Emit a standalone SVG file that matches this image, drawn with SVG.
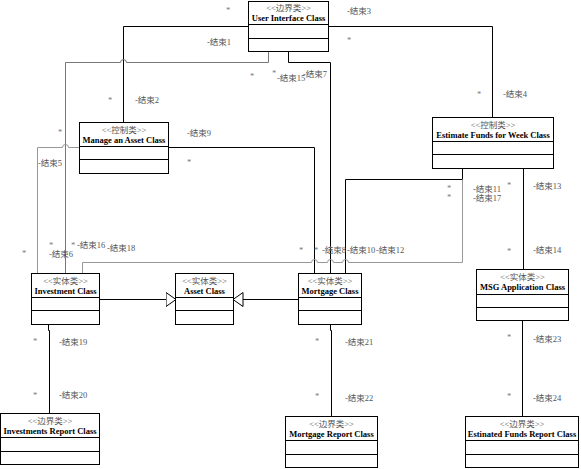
<svg xmlns="http://www.w3.org/2000/svg" width="581" height="469" viewBox="0 0 581 469">
<style>
.box{fill:#fff;stroke:#000;stroke-width:1}
.div{stroke:#000;stroke-width:1}
.st{font-family:"Liberation Serif","Noto Sans CJK SC",serif;font-size:8.5px;fill:#555;text-anchor:middle}
.nm{font-family:"Liberation Serif","Noto Sans CJK SC",serif;font-size:8.5px;font-weight:bold;fill:#000;text-anchor:middle}
.ln{fill:none;stroke:#000;stroke-width:1}
.g1{fill:none;stroke:#777;stroke-width:1}
.g2{fill:none;stroke:#999;stroke-width:1}
.lbl{font-family:"Liberation Serif","Noto Sans CJK SC",serif;font-size:8.5px;fill:#555}
.star{font-family:"Liberation Serif",serif;font-size:8.5px;fill:#777;text-anchor:middle}
</style>
<defs>
<marker id="gen" markerWidth="12" markerHeight="16" refX="10.5" refY="7.5" orient="auto" markerUnits="userSpaceOnUse">
<path d="M0.5,0.5 L10.5,7.5 L0.5,14.5 Z" fill="#fff" stroke="#000" stroke-width="1"/>
</marker>
</defs>
<rect width="581" height="469" fill="#fff"/>

<g id="connectors">
<path class="ln" d="M248.5,26.5 H123.5 V122.5"/>
<path class="ln" d="M328.5,26.5 H492.5 V117.5"/>
<path class="g1" d="M268.5,51.5 V62.5 H126.5 A3,3 0 0 0 120.5,62.5 H65.5 V273.5"/>
<path class="g2" d="M79.5,147.5 H68.5 A3,3 0 0 0 62.5,147.5 H37.5 V273.5"/>
<path class="ln" d="M288.5,51.5 V62.5 H330.5 V273.5"/>
<path class="ln" d="M168.5,147.5 H314.5 V273.5"/>
<path class="ln" d="M462.5,168.5 V179.5 H345.5 V273.5"/>
<path class="g2" d="M462.5,179.5 V262.5 H348.5 A3,3 0 0 0 342.5,262.5 H333.5 A3,3 0 0 0 327.5,262.5 H317.5 A3,3 0 0 0 311.5,262.5 H82.5 V273.5"/>
<path class="ln" d="M523.5,168.5 V269.5"/>
<path class="ln" d="M48.5,324.5 V330.5 H49.5 V413.5"/>
<path class="ln" d="M330.5,324.5 V330.5 H331.5 V416.5"/>
<path class="ln" d="M522.5,320.5 V416.5"/>
<path class="ln" d="M99.5,299.5 H176" marker-end="url(#gen)"/>
<path class="ln" d="M298.5,299.5 H233" marker-end="url(#gen)"/>

<g id="labels">
<text class="star" x="228" y="13">*</text>
<text class="lbl" x="207" y="45">-结束1</text>
<text class="lbl" x="347" y="14">-结束3</text>
<text class="star" x="349" y="43">*</text>
<text class="star" x="479" y="97">*</text>
<text class="lbl" x="503" y="97">-结束4</text>
<text class="star" x="110" y="103">*</text>
<text class="lbl" x="135" y="103">-结束2</text>
<text class="star" x="60" y="135">*</text>
<text class="lbl" x="38" y="166">-结束5</text>
<text class="lbl" x="187" y="135.5">-结束9</text>
<text class="star" x="189" y="165">*</text>
<text class="star" x="252" y="79">*</text>
<text class="star" x="274" y="76">*</text>
<text class="lbl" x="277" y="81">-结束15</text>
<text class="lbl" x="303" y="77">-结束7</text>
<text class="star" x="51" y="248">*</text>
<text class="star" x="73" y="248">*</text>
<text class="lbl" x="77" y="248">-结束16</text>
<text class="lbl" x="107" y="251">-结束18</text>
<text class="lbl" x="49" y="257">-结束6</text>
<text class="star" x="24" y="256">*</text>
<text class="star" x="301" y="253">*</text>
<text class="star" x="316" y="253">*</text>
<text class="lbl" x="322" y="253">-结束8</text>
<text class="lbl" x="347" y="253">-结束10</text>
<text class="lbl" x="376" y="253">-结束12</text>
<text class="star" x="449" y="191">*</text>
<text class="star" x="449" y="200">*</text>
<text class="lbl" x="473" y="192">-结束11</text>
<text class="lbl" x="473" y="201">-结束17</text>
<text class="star" x="509" y="188">*</text>
<text class="lbl" x="533" y="189">-结束13</text>
<text class="star" x="509" y="254">*</text>
<text class="lbl" x="533" y="253">-结束14</text>
<text class="star" x="35" y="344">*</text>
<text class="lbl" x="59" y="345">-结束19</text>
<text class="star" x="35" y="398">*</text>
<text class="lbl" x="59" y="398">-结束20</text>
<text class="star" x="317" y="344">*</text>
<text class="lbl" x="345" y="345">-结束21</text>
<text class="star" x="317" y="399">*</text>
<text class="lbl" x="345" y="401">-结束22</text>
<text class="star" x="509" y="340">*</text>
<text class="lbl" x="533" y="342">-结束23</text>
<text class="star" x="509" y="399">*</text>
<text class="lbl" x="533" y="401">-结束24</text>
</g>
</g>

<g id="ui">
<rect class="box" x="248.5" y="1.5" width="80" height="50"/>
<path class="div" d="M248.5,24.5 H328.5 M248.5,38.5 H328.5"/>
<text class="st" x="288.5" y="11">&lt;&lt;边界类&gt;&gt;</text>
<text class="nm" x="288.5" y="21">User Interface Class</text>
</g>

<g id="manage">
<rect class="box" x="79.5" y="122.5" width="89" height="51"/>
<path class="div" d="M79.5,146.5 H168.5 M79.5,159.5 H168.5"/>
<text class="st" x="124" y="132.5">&lt;&lt;控制类&gt;&gt;</text>
<text class="nm" x="124" y="142.5">Manage an Asset Class</text>
</g>

<g id="estimate">
<rect class="box" x="432.5" y="117.5" width="121" height="51"/>
<path class="div" d="M432.5,141.5 H553.5 M432.5,154.5 H553.5"/>
<text class="st" x="493" y="127.5">&lt;&lt;控制类&gt;&gt;</text>
<text class="nm" x="493" y="137.5">Estimate Funds for Week Class</text>
</g>

<g id="investment">
<rect class="box" x="31.5" y="273.5" width="68" height="51"/>
<path class="div" d="M31.5,297.5 H99.5 M31.5,310.5 H99.5"/>
<text class="st" x="65.5" y="283.5">&lt;&lt;实体类&gt;&gt;</text>
<text class="nm" x="65.5" y="293.5">Investment Class</text>
</g>

<g id="asset">
<rect class="box" x="175.5" y="273.5" width="58" height="51"/>
<path class="div" d="M175.5,297.5 H233.5 M175.5,310.5 H233.5"/>
<text class="st" x="204.5" y="283.5">&lt;&lt;实体类&gt;&gt;</text>
<text class="nm" x="204.5" y="293.5">Asset Class</text>
</g>

<g id="mortgage">
<rect class="box" x="298.5" y="273.5" width="63" height="51"/>
<path class="div" d="M298.5,297.5 H361.5 M298.5,310.5 H361.5"/>
<text class="st" x="330" y="283.5">&lt;&lt;实体类&gt;&gt;</text>
<text class="nm" x="330" y="293.5">Mortgage Class</text>
</g>

<g id="msg">
<rect class="box" x="476.5" y="269.5" width="92" height="51"/>
<path class="div" d="M476.5,294.5 H568.5 M476.5,307.5 H568.5"/>
<text class="st" x="522.5" y="279.5">&lt;&lt;实体类&gt;&gt;</text>
<text class="nm" x="522.5" y="289.5">MSG Application Class</text>
</g>

<g id="invreport">
<rect class="box" x="0.5" y="413.5" width="99" height="51"/>
<path class="div" d="M0.5,437.5 H99.5 M0.5,451.5 H99.5"/>
<text class="st" x="50" y="423.5">&lt;&lt;边界类&gt;&gt;</text>
<text class="nm" x="50" y="433.5">Investments Report Class</text>
</g>

<g id="mortreport">
<rect class="box" x="285.5" y="416.5" width="92" height="51"/>
<path class="div" d="M285.5,440.5 H377.5 M285.5,454.5 H377.5"/>
<text class="st" x="331.5" y="426.5">&lt;&lt;边界类&gt;&gt;</text>
<text class="nm" x="331.5" y="436.5">Mortgage Report Class</text>
</g>

<g id="estreport">
<rect class="box" x="465.5" y="416.5" width="113" height="51"/>
<path class="div" d="M465.5,440.5 H578.5 M465.5,454.5 H578.5"/>
<text class="st" x="522" y="426.5">&lt;&lt;边界类&gt;&gt;</text>
<text class="nm" x="522" y="436.5">Estinated Funds Report Class</text>
</g>
</svg>
